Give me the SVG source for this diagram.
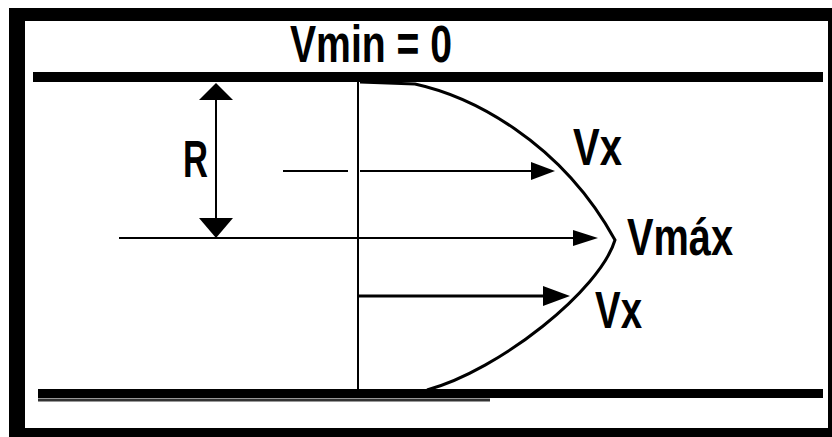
<svg xmlns="http://www.w3.org/2000/svg" width="832" height="437" viewBox="0 0 832 437">
<style>
.lbl{font-family:"Liberation Sans",Arial,sans-serif;font-weight:bold;font-size:51px;fill:#000}
.ln{stroke:#000;fill:none}
</style>
<rect x="0" y="0" width="832" height="437" fill="#fff"/>
<rect x="9" y="8" width="823" height="429" fill="#000"/>
<rect x="25" y="21" width="803" height="407" fill="#fff"/>
<g id="pipe">
<rect x="33" y="72" width="790" height="10" fill="#000"/>
<rect x="38" y="389" width="785" height="9" fill="#000"/>
<line x1="38" y1="400" x2="490" y2="400" stroke="#333" stroke-width="3"/>
</g>
<g id="profile">
<line class="ln" x1="358" y1="82" x2="358" y2="389" stroke-width="2"/>
<path class="ln" stroke-width="3" stroke-linejoin="miter" d="M360,82 L415,84 C470,96 560,140 615,240 C600,290 500,370 427,390"/>
</g>
<g id="connectors">
<line class="ln" x1="216" y1="98" x2="216" y2="220" stroke-width="2"/>
<polygon points="216,83 199,100 233,100" fill="#000"/>
<polygon points="216,238 199,218 233,218" fill="#000"/>
<line class="ln" x1="119" y1="238" x2="575" y2="238" stroke-width="2"/>
<polygon points="598,238 573,230 573,246" fill="#000"/>
<line class="ln" x1="283" y1="171" x2="348" y2="171" stroke-width="2"/>
<line class="ln" x1="360" y1="171" x2="533" y2="171" stroke-width="2"/>
<polygon points="555,171 531,162 531,180" fill="#000"/>
<line class="ln" x1="358" y1="296" x2="545" y2="296" stroke-width="3"/>
<polygon points="570,296 543,286 543,306" fill="#000"/>
</g>
<g id="labels">
<text class="lbl" x="290" y="62" textLength="162" lengthAdjust="spacingAndGlyphs">Vmin = 0</text>
<text class="lbl" x="183" y="177" textLength="25" lengthAdjust="spacingAndGlyphs">R</text>
<text class="lbl" x="573" y="165" textLength="49" lengthAdjust="spacingAndGlyphs">Vx</text>
<text class="lbl" x="627" y="255" textLength="106" lengthAdjust="spacingAndGlyphs">Vmáx</text>
<text class="lbl" x="595" y="328" textLength="47" lengthAdjust="spacingAndGlyphs">Vx</text>
</g>
</svg>
